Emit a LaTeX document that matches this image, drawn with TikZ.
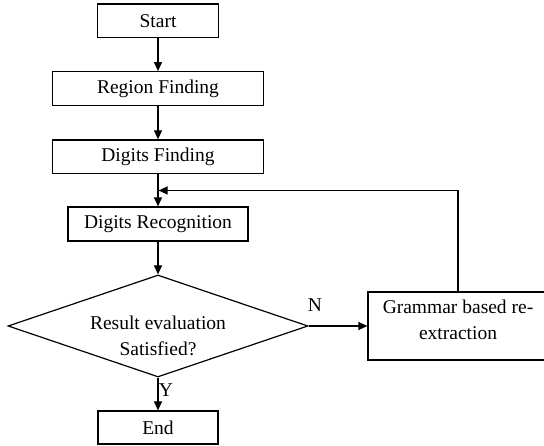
\documentclass[tikz,border=0pt]{standalone}
\usepackage{fontspec}
\setmainfont{Liberation Serif}
\usetikzlibrary{arrows.meta,shapes.geometric}

\tikzset{
  box/.style={draw, rectangle, line width=1.2pt, inner sep=0pt},
  decision/.style={draw, diamond, line width=1.2pt, inner sep=0pt, aspect=3},
  txt/.style={inner sep=0pt, align=center, font=\fontsize{19.5}{26}\selectfont},
  flow/.style={line width=1.2pt, -{Triangle[length=9pt,width=8pt]}},
  plain/.style={line width=1.2pt}
}

\begin{document}
\begin{tikzpicture}[x=1pt, y=-1pt]
  \useasboundingbox (0,0) rectangle (544,446);

  % process boxes down the main column
  \node[box, minimum width=121pt, minimum height=33.5pt] (start) at (158,20.8) {};
  \node[txt] (starttxt) at (start.center) {Start};
  \node[box, minimum width=210.5pt, minimum height=34pt] (region) at (158,88.7) {};
  \node[txt] (regiontxt) at (region.center) {Region Finding};
  \node[box, minimum width=210.5pt, minimum height=33.5pt] (digits) at (158,156.7) {};
  \node[txt] (digitstxt) at (digits.center) {Digits Finding};
  \node[box, minimum width=180pt, minimum height=34pt] (recog) at (158,224) {};
  \node[txt] (recogtxt) at (recog.center) {Digits Recognition};

  % decision
  \node[decision, minimum width=300pt, minimum height=102pt] (dia) at (158,326) {};
  \node[txt] (diatxt) at (158,335.5) {Result evaluation\\Satisfied?};

  % re-extraction box (runs past the right edge)
  \node[box, minimum width=180pt, minimum height=68pt] (gram) at (458,326) {};
  \node[txt] (gramtxt) at (458,320) {Grammar based re-\\extraction};

  % end
  \node[box, minimum width=120pt, minimum height=33pt] (end) at (158,427.5) {};
  \node[txt] (endtxt) at (end.center) {End};

  % connectors
  \draw[flow] (start.south) -- (region.north);
  \draw[flow] (region.south) -- (digits.north);
  \draw[flow] (digits.south) -- (recog.north);
  \draw[flow] (recog.south) -- (dia.north);
  \draw[flow] (dia.east) -- (gram.west);
  \draw[flow] (dia.south) -- (end.north);

  % feedback loop back into the main column
  \coordinate (loopin) at (158.6,190.5);
  \draw[flow] (gram.north) |- (loopin);

  % branch labels
  \node[txt] (nlab) at (315,305) {N};
  \node[txt] (ylab) at (166,390) {Y};
\end{tikzpicture}
\end{document}
